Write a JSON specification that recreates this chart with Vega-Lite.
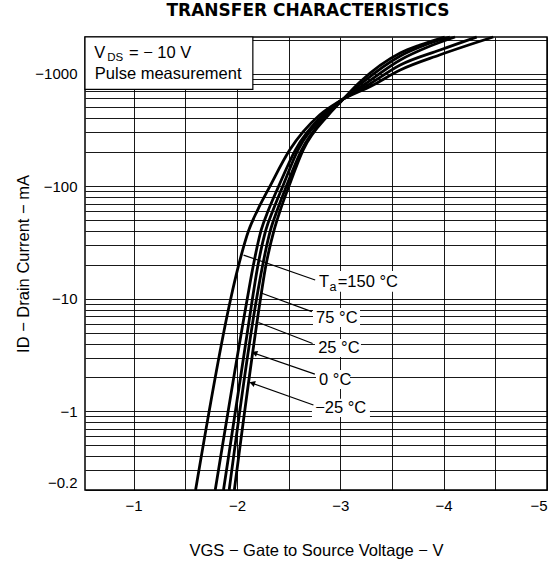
{
  "$schema": "https://vega.github.io/schema/vega-lite/v6.json",
  "width": 462,
  "height": 453,
  "autosize": {"type": "none"},
  "padding": {"left": 85, "top": 37, "right": 3, "bottom": 77},
  "background": "white",
  "title": {"text": "TRANSFER CHARACTERISTICS", "font": "DejaVu Sans", "fontSize": 17, "fontWeight": "bold", "color": "black", "offset": 11, "dx": -8},
  "config": {
    "view": {"stroke": "black", "strokeWidth": 1.5},
    "axis": {"domain": false, "ticks": false, "grid": true, "gridColor": "black", "gridOpacity": 0.9, "gridWidth": 1,
      "labelFont": "Liberation Sans", "labelFontSize": 15, "labelColor": "black", "labelPadding": 8, "labelFlush": true,
      "titleFont": "Liberation Sans", "titleFontSize": 16.5, "titleFontWeight": "normal", "titleColor": "black"}
  },
  "datasets": {
    "curves": [
      {"T": "150", "V": -1.60, "I": 0.2}, {"T": "150", "V": -1.94, "I": 10}, {"T": "150", "V": -2.005, "I": 18}, {"T": "150", "V": -2.115, "I": 40.8},
      {"T": "150", "V": -2.20, "I": 61.3}, {"T": "150", "V": -2.315, "I": 98}, {"T": "150", "V": -2.51, "I": 209}, {"T": "150", "V": -2.80, "I": 428},
      {"T": "150", "V": -2.985, "I": 562}, {"T": "150", "V": -3.30, "I": 775}, {"T": "150", "V": -3.58, "I": 1074}, {"T": "150", "V": -3.96, "I": 1460},
      {"T": "150", "V": -4.48, "I": 2110},

      {"T": "75", "V": -1.79, "I": 0.2}, {"T": "75", "V": -2.10, "I": 10}, {"T": "75", "V": -2.15, "I": 18}, {"T": "75", "V": -2.235, "I": 40.8},
      {"T": "75", "V": -2.305, "I": 61.3}, {"T": "75", "V": -2.40, "I": 98}, {"T": "75", "V": -2.565, "I": 209}, {"T": "75", "V": -2.83, "I": 428},
      {"T": "75", "V": -2.99, "I": 562}, {"T": "75", "V": -3.27, "I": 791}, {"T": "75", "V": -3.58, "I": 1190}, {"T": "75", "V": -3.965, "I": 1617},
      {"T": "75", "V": -4.32, "I": 2110},

      {"T": "25", "V": -1.87, "I": 0.2}, {"T": "25", "V": -2.15, "I": 10}, {"T": "25", "V": -2.195, "I": 18}, {"T": "25", "V": -2.28, "I": 40.8},
      {"T": "25", "V": -2.35, "I": 61.3}, {"T": "25", "V": -2.44, "I": 98}, {"T": "25", "V": -2.59, "I": 209}, {"T": "25", "V": -2.855, "I": 428},
      {"T": "25", "V": -2.995, "I": 562}, {"T": "25", "V": -3.24, "I": 807}, {"T": "25", "V": -3.58, "I": 1318}, {"T": "25", "V": -3.87, "I": 1754},
      {"T": "25", "V": -4.11, "I": 2110},

      {"T": "0", "V": -1.925, "I": 0.2}, {"T": "0", "V": -2.19, "I": 10}, {"T": "0", "V": -2.24, "I": 18}, {"T": "0", "V": -2.325, "I": 40.8},
      {"T": "0", "V": -2.39, "I": 61.3}, {"T": "0", "V": -2.475, "I": 98}, {"T": "0", "V": -2.625, "I": 209}, {"T": "0", "V": -2.87, "I": 428},
      {"T": "0", "V": -3.0, "I": 562}, {"T": "0", "V": -3.21, "I": 824}, {"T": "0", "V": -3.58, "I": 1430}, {"T": "0", "V": -3.82, "I": 1791},
      {"T": "0", "V": -4.06, "I": 2110},

      {"T": "-25", "V": -1.975, "I": 0.2}, {"T": "-25", "V": -2.228, "I": 10}, {"T": "-25", "V": -2.272, "I": 18}, {"T": "-25", "V": -2.36, "I": 40.8},
      {"T": "-25", "V": -2.42, "I": 61.3}, {"T": "-25", "V": -2.50, "I": 98}, {"T": "-25", "V": -2.64, "I": 209}, {"T": "-25", "V": -2.885, "I": 428},
      {"T": "-25", "V": -3.005, "I": 562}, {"T": "-25", "V": -3.19, "I": 840}, {"T": "-25", "V": -3.58, "I": 1521}, {"T": "-25", "V": -3.77, "I": 1791},
      {"T": "-25", "V": -4.01, "I": 2110}
    ],
    "box": [{"V": -0.53, "V2": -2.154, "I": 724, "I2": 2110}],
    "labelbg": [
      {"V": -2.775, "V2": -3.626, "I": 17.6, "I2": 11.5},
      {"V": -2.736, "V2": -3.191, "I": 8.27, "I2": 5.61},
      {"V": -2.755, "V2": -3.200, "I": 4.39, "I2": 3.04},
      {"V": -2.765, "V2": -3.094, "I": 2.33, "I2": 1.58},
      {"V": -2.726, "V2": -3.287, "I": 1.29, "I2": 0.89}
    ],
    "leaders": [
      {"V": -2.064, "I": 24.4, "V2": -2.757, "I2": 14.66},
      {"V": -2.241, "I": 11.17, "V2": -2.725, "I2": 7.67},
      {"V": -2.208, "I": 6.15, "V2": -2.732, "I2": 4.0},
      {"V": -2.145, "I": 3.33, "V2": -2.754, "I2": 2.14},
      {"V": -2.128, "I": 1.80, "V2": -2.740, "I2": 1.137}
    ],
    "arrows": [{"V": -2.17, "I": 3.3}, {"V": -2.148, "I": 1.78}],
    "labels": [
      {"V": -2.795, "I": 12.78, "txt": "T"},
      {"V": -2.975, "I": 12.78, "txt": "=150 °C"},
      {"V": -2.766, "I": 6.08, "txt": "75 °C"},
      {"V": -2.786, "I": 3.27, "txt": "25 °C"},
      {"V": -2.795, "I": 1.71, "txt": "0 °C"},
      {"V": -2.757, "I": 0.966, "txt": "−25 °C"}
    ],
    "subs": [{"V": -2.895, "I": 11.7, "txt": "a"}],
    "boxtext": [
      {"V": -0.62, "I": 1373, "txt": "V"},
      {"V": -0.955, "I": 1373, "txt": "= − 10 V"},
      {"V": -0.625, "I": 894, "txt": "Pulse measurement"}
    ],
    "boxsubs": [{"V": -0.745, "I": 1291, "txt": "DS"}]
  },
  "encoding": {
    "x": {"field": "V", "type": "quantitative", "scale": {"domain": [-0.53, -5], "nice": false, "zero": false},
      "axis": {"values": [-1, -1.5, -2, -2.5, -3, -3.5, -4, -4.5, -5], "labelExpr": "datum.value % 1 == 0 ? '−' + abs(datum.value) : ''", "title": "VGS − Gate to Source Voltage − V", "titlePadding": 29}},
    "y": {"field": "I", "type": "quantitative", "scale": {"type": "log", "domain": [0.2, 2110], "nice": false},
      "axis": {"values": [0.2, 0.3, 0.4, 0.5, 0.6, 0.7, 0.8, 0.9, 1, 2, 3, 4, 5, 6, 7, 8, 9, 10, 20, 30, 40, 50, 60, 70, 80, 90, 100, 200, 300, 400, 500, 600, 700, 800, 900, 1000, 2000],
        "labelExpr": "(datum.value == 0.2 || datum.value == 1 || datum.value == 10 || datum.value == 100 || datum.value == 1000) ? '−' + datum.value : ''",
        "title": "ID − Drain Current − mA", "titlePadding": 3}}
  },
  "layer": [
    {
      "data": {"name": "box"},
      "mark": {"type": "rect", "fill": "white", "stroke": "black", "strokeWidth": 1.2},
      "encoding": {"x2": {"field": "V2"}, "y2": {"field": "I2"}}
    },
    {
      "data": {"name": "curves"},
      "mark": {"type": "line", "interpolate": "monotone", "strokeWidth": 2.8, "color": "black"},
      "encoding": {"detail": {"field": "T"}, "order": {"field": "I", "type": "quantitative"}}
    },
    {
      "data": {"name": "labelbg"},
      "mark": {"type": "rect", "fill": "white", "strokeWidth": 0},
      "encoding": {"x2": {"field": "V2"}, "y2": {"field": "I2"}}
    },
    {
      "data": {"name": "leaders"},
      "mark": {"type": "rule", "color": "black", "strokeWidth": 1.2},
      "encoding": {"x2": {"field": "V2"}, "y2": {"field": "I2"}}
    },
    {
      "data": {"name": "arrows"},
      "mark": {"type": "point", "shape": "triangle-left", "filled": true, "color": "black", "size": 40, "angle": 20, "opacity": 1}
    },
    {
      "data": {"name": "labels"},
      "mark": {"type": "text", "align": "left", "baseline": "alphabetic", "font": "Liberation Sans", "fontSize": 16.5, "color": "black"},
      "encoding": {"text": {"field": "txt"}}
    },
    {
      "data": {"name": "subs"},
      "mark": {"type": "text", "align": "left", "baseline": "alphabetic", "font": "Liberation Sans", "fontSize": 12.5, "color": "black"},
      "encoding": {"text": {"field": "txt"}}
    },
    {
      "data": {"name": "boxtext"},
      "mark": {"type": "text", "align": "left", "baseline": "alphabetic", "font": "Liberation Sans", "fontSize": 16.5, "color": "black"},
      "encoding": {"text": {"field": "txt"}}
    },
    {
      "data": {"name": "boxsubs"},
      "mark": {"type": "text", "align": "left", "baseline": "alphabetic", "font": "Liberation Sans", "fontSize": 11.5, "color": "black"},
      "encoding": {"text": {"field": "txt"}}
    }
  ]
}
